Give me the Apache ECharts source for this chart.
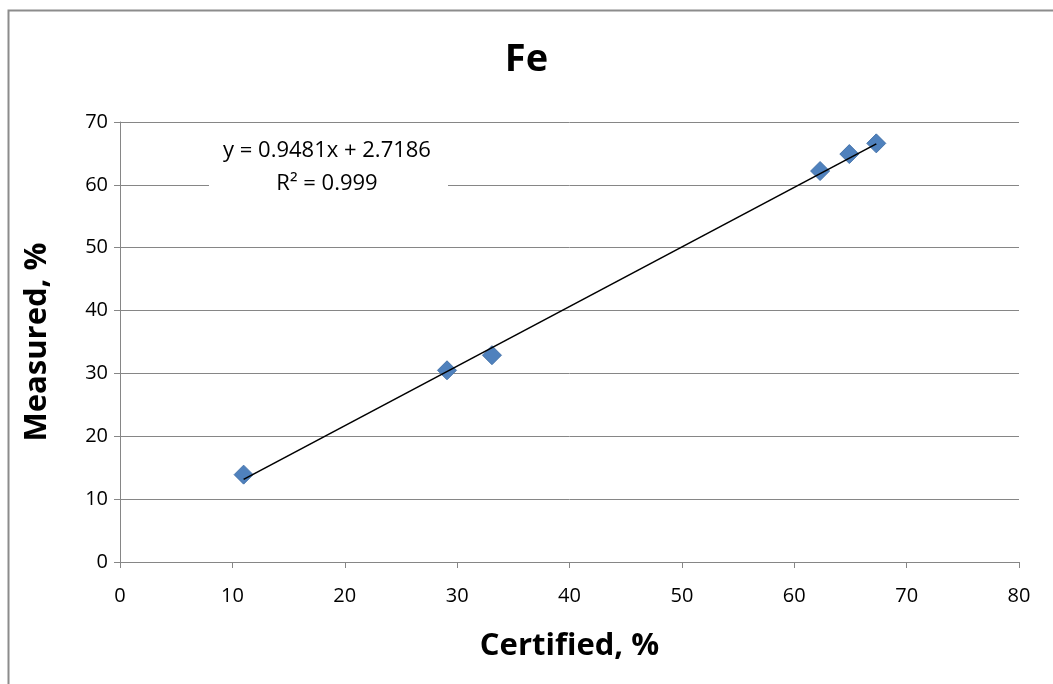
<!DOCTYPE html>
<html>
<head>
<meta charset="utf-8">
<script src="https://cdn.jsdelivr.net/npm/echarts@6/dist/echarts.min.js"></script>
<style>html,body{margin:0;padding:0;background:#fff}#c{width:1053px;height:684px}</style>
</head>
<body>
<div id="c"></div>
<script>
// Data
const certified = [11.0, 29.1, 33.1, 62.3, 64.9, 67.3];
const measured  = [13.9, 30.5, 32.9, 62.2, 64.9, 66.6];
const trendSlope = 0.9481;
const trendIntercept = 2.7186;
const rSquared = 0.999;
const xTicks = [0, 10, 20, 30, 40, 50, 60, 70, 80];
const yTicks = [0, 10, 20, 30, 40, 50, 60, 70];

const points = certified.map((x, i) => [x, measured[i]]);
const xMin = Math.min(...certified), xMax = Math.max(...certified);
const trend = [[xMin, trendSlope * xMin + trendIntercept], [xMax, trendSlope * xMax + trendIntercept]];

const FONT = '"Open Sans", "Noto Sans", sans-serif';
const AXIS_COLOR = '#868686';

const chart = echarts.init(document.getElementById('c'), null, {renderer: 'canvas'});
chart.setOption({
  animation: false,
  backgroundColor: '#ffffff',
  title: {
    text: 'Fe', left: 'center', top: 36,
    textStyle: {fontFamily: FONT, fontSize: 38, fontWeight: 'bold', color: '#000'}
  },
  grid: {left: 120, right: 34, top: 122, bottom: 122},
  xAxis: {
    type: 'value', min: xTicks[0], max: xTicks[xTicks.length - 1], interval: 10,
    name: 'Certified, %', nameLocation: 'middle', nameGap: 69,
    nameTextStyle: {fontFamily: FONT, fontSize: 31, fontWeight: 'bold', color: '#000'},
    axisLine: {lineStyle: {color: AXIS_COLOR, width: 1}},
    axisTick: {show: true, length: 6, lineStyle: {color: AXIS_COLOR}},
    axisLabel: {fontFamily: FONT, fontSize: 20, color: '#000', margin: 24},
    splitLine: {show: false}
  },
  yAxis: {
    type: 'value', min: yTicks[0], max: yTicks[yTicks.length - 1], interval: 10,
    name: 'Measured, %', nameLocation: 'middle', nameGap: 67,
    nameTextStyle: {fontFamily: FONT, fontSize: 31, fontWeight: 'bold', color: '#000'},
    axisLine: {show: true, lineStyle: {color: AXIS_COLOR, width: 1}},
    axisTick: {show: true, length: 6, lineStyle: {color: AXIS_COLOR}},
    axisLabel: {fontFamily: FONT, fontSize: 20, color: '#000', margin: 12},
    splitLine: {show: true, lineStyle: {color: AXIS_COLOR, width: 1}}
  },
  series: [
    {
      type: 'scatter', data: points, symbol: 'diamond', symbolSize: 19,
      itemStyle: {color: '#4F81BD', opacity: 1, borderColor: '#4674AB', borderWidth: 1}, z: 3
    },
    {
      type: 'line', data: trend, showSymbol: false, symbol: 'none',
      lineStyle: {color: '#000', width: 1.6}, z: 4, silent: true
    }
  ],
  graphic: [
    {type: 'rect', left: 6, top: 8, z: 0, silent: true,
     shape: {width: 1100, height: 700},
     style: {fill: 'none', stroke: '#8c8c8c', lineWidth: 2}},
    {type: 'rect', left: 209, top: 132, z: 10,
     shape: {width: 239, height: 66},
     style: {fill: '#ffffff', stroke: 'none'}},
    {type: 'text', x: 327, y: 151, z: 11,
     style: {text: 'y = ' + trendSlope + 'x + ' + trendIntercept, fontFamily: FONT, fontSize: 22,
             fill: '#000', textAlign: 'center', textVerticalAlign: 'middle'}},
    {type: 'text', x: 327, y: 184, z: 11,
     style: {text: 'R² = ' + rSquared, fontFamily: FONT, fontSize: 22,
             fill: '#000', textAlign: 'center', textVerticalAlign: 'middle'}}
  ]
});
</script>
</body>
</html>
